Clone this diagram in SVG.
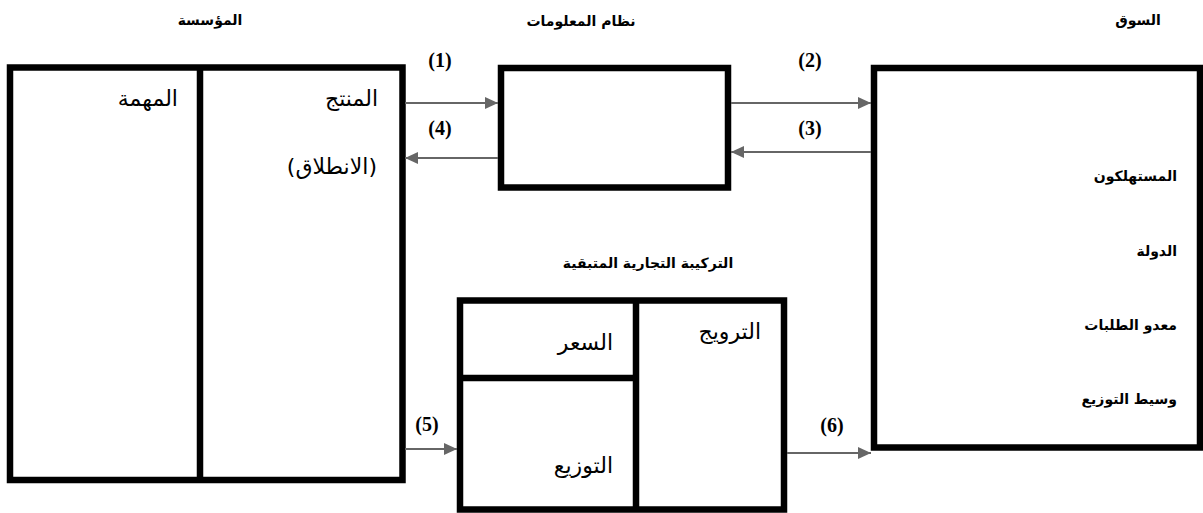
<svg xmlns="http://www.w3.org/2000/svg" width="1203" height="513" viewBox="0 0 1203 513">
<style>
.box{fill:#fff;stroke:#000;stroke-width:6.5}
.div{stroke:#000;stroke-width:6.5;fill:none}
.conn{stroke:#666;stroke-width:2;fill:none}
.t{font-family:"DejaVu Sans",sans-serif;font-size:22px;fill:#000}
.tb{font-family:"DejaVu Sans",sans-serif;font-size:14px;font-weight:bold;fill:#000}
.r{text-anchor:start}
.c{text-anchor:middle}
.n{font-family:"Liberation Serif",serif;font-size:20px;font-weight:bold;fill:#000;text-anchor:middle}
</style>
<defs>
<marker id="ah" markerWidth="13" markerHeight="12" refX="13" refY="6" orient="auto" markerUnits="userSpaceOnUse">
<path d="M0,0 L13,6 L0,12 Z" fill="#666"/>
</marker>
</defs>
<g id="titles">
<text class="tb c" x="210" y="25" direction="rtl">المؤسسة</text>
<text class="tb c" x="581" y="26" direction="rtl">نظام المعلومات</text>
<text class="tb c" x="1138" y="25" direction="rtl">السوق</text>
<text class="tb c" x="648" y="268" direction="rtl">التركيبة التجارية المتبقية</text>
</g>
<g id="enterprise">
<rect class="box" x="10" y="67.5" width="392.5" height="412.5"/>
<line class="div" x1="200" y1="67.5" x2="200" y2="480"/>
<text class="t r" x="178" y="106" direction="rtl">المهمة</text>
<text class="t r" x="378" y="106" direction="rtl">المنتج</text>
<text class="t r" x="377" y="174" direction="rtl">(الانطلاق)</text>
</g>
<g id="info-system">
<rect class="box" x="501" y="68" width="227" height="119.5"/>
</g>
<g id="market">
<rect class="box" x="874" y="68" width="326" height="379.5"/>
<text class="tb r" x="1177" y="181" direction="rtl">المستهلكون</text>
<text class="tb r" x="1177" y="256" direction="rtl">الدولة</text>
<text class="tb r" x="1177" y="330" direction="rtl">معدو الطلبات</text>
<text class="tb r" x="1177" y="404" direction="rtl">وسيط التوزيع</text>
</g>
<g id="marketing-mix">
<rect class="box" x="460" y="300.5" width="324" height="209"/>
<line class="div" x1="636" y1="300.5" x2="636" y2="509.5"/>
<line class="div" x1="460" y1="378" x2="636" y2="378"/>
<text class="t r" x="613" y="350" direction="rtl">السعر</text>
<text class="t r" x="761" y="339" direction="rtl">الترويج</text>
<text class="t r" x="613" y="473" direction="rtl">التوزيع</text>
</g>
<g id="connectors">
<line class="conn" x1="405" y1="103" x2="498" y2="103" marker-end="url(#ah)"/>
<line class="conn" x1="731" y1="103" x2="871" y2="103" marker-end="url(#ah)"/>
<line class="conn" x1="871" y1="152" x2="731" y2="152" marker-end="url(#ah)"/>
<line class="conn" x1="498" y1="158" x2="405" y2="158" marker-end="url(#ah)"/>
<line class="conn" x1="405" y1="449" x2="457" y2="449" marker-end="url(#ah)"/>
<line class="conn" x1="787" y1="453" x2="871" y2="453" marker-end="url(#ah)"/>
<text class="n" x="440" y="67">(1)</text>
<text class="n" x="810" y="67">(2)</text>
<text class="n" x="810" y="135">(3)</text>
<text class="n" x="440" y="135">(4)</text>
<text class="n" x="427" y="431">(5)</text>
<text class="n" x="832" y="432">(6)</text>
</g>
</svg>
